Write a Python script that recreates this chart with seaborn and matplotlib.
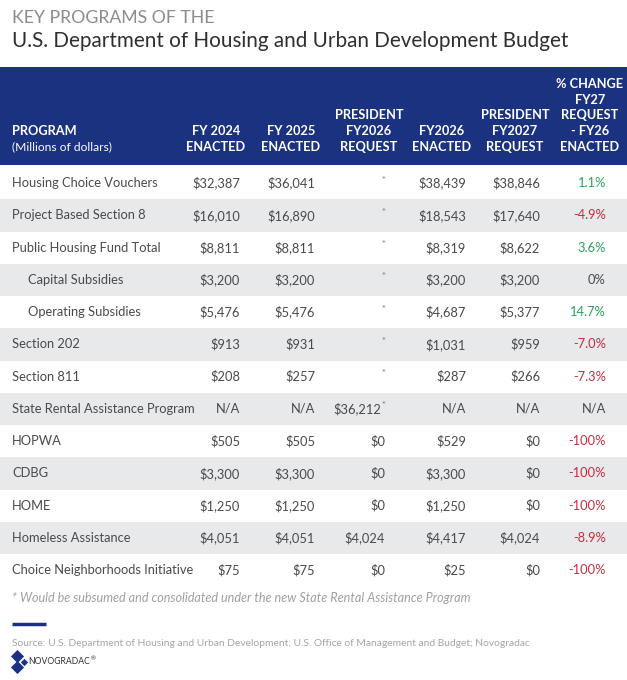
import matplotlib
matplotlib.use("Agg")
import matplotlib.pyplot as plt
import seaborn as sns
import pandas as pd

programs = ["Housing Choice Vouchers", "Project Based Section 8", "Public Housing Fund Total",
            "Capital Subsidies", "Operating Subsidies", "Section 202", "Section 811",
            "State Rental Assistance Program", "HOPWA", "CDBG", "HOME",
            "Homeless Assistance", "Choice Neighborhoods Initiative"]
indented = [False, False, False, True, True, False, False, False, False, False, False, False, False]
fy2024 = [32387, 16010, 8811, 3200, 5476, 913, 208, None, 505, 3300, 1250, 4051, 75]
fy2025 = [36041, 16890, 8811, 3200, 5476, 931, 257, None, 505, 3300, 1250, 4051, 75]
pres_fy2026 = ["*", "*", "*", "*", "*", "*", "*", 36212, 0, 0, 0, 4024, 0]
pres_fy2026_note = [False] * 7 + [True] + [False] * 5
fy2026 = [38439, 18543, 8319, 3200, 4687, 1031, 287, None, 529, 3300, 1250, 4417, 25]
pres_fy2027 = [38846, 17640, 8622, 3200, 5377, 959, 266, None, 0, 0, 0, 4024, 0]
pct_change = [1.1, -4.9, 3.6, 0, 14.7, -7.0, -7.3, None, -100, -100, -100, -8.9, -100]

headers = ["FY 2024\nENACTED", "FY 2025\nENACTED", "PRESIDENT\nFY2026\nREQUEST",
           "FY2026\nENACTED", "PRESIDENT\nFY2027\nREQUEST",
           "% CHANGE\nFY27\nREQUEST\n- FY26\nENACTED"]

title_top = "KEY PROGRAMS OF THE"
title_main = "U.S. Department of Housing and Urban Development Budget"
footnote = "* Would be subsumed and consolidated under the new State Rental Assistance Program"
source = "Source: U.S. Department of Housing and Urban Development; U.S. Office of Management and Budget; Novogradac"

sns.set_theme(style="white")
plt.rcParams['font.family'] = ['Lato', 'DejaVu Sans']

BLUE = "#1b3281"
GRAY_ROW = "#e8e9ea"
TXT = "#4a4a4a"
GREEN = "#27a35a"
RED = "#c22f3f"

W, H = 627, 680
fig = plt.figure(figsize=(W / 100, H / 100), dpi=100)
ax = fig.add_axes([0, 0, 1, 1])
ax.set_xlim(0, W)
ax.set_ylim(H, 0)
ax.axis("off")

def px(p):
    return p * 0.72

# titles
ax.text(12, 18, title_top, fontsize=px(17.6), color="#8c8c8c", va="center", ha="left")
ax.text(12, 41, title_main, fontsize=px(20.7), color="#2f2f2f", va="center", ha="left")

# header band
hdr_top, hdr_bot = 67, 165
ax.axhspan(hdr_top, hdr_bot, color=BLUE, lw=0)

col_right = [240, 315, 385, 466, 540, 606]
col_center = [216, 291, 369, 442, 515, 590]
line_h = 15.8
bottom_line_y = 147

hfs = px(12.8)
ax.text(12, bottom_line_y - line_h, "PROGRAM", color="white", fontsize=hfs,
        fontweight="bold", va="center", ha="left")
ax.text(12, bottom_line_y, "(Millions of dollars)", color="white", fontsize=px(12),
        va="center", ha="left")
for h, cx in zip(headers, col_center):
    lines = h.split("\n")
    n = len(lines)
    for k, ln in enumerate(lines):
        y = bottom_line_y - (n - 1 - k) * line_h
        ax.text(cx, y, ln, color="white", fontsize=hfs, fontweight="bold",
                va="center", ha="center")

# rows
row_top = 167
row_h = 32.25
fs = px(12.9)

def money(v):
    if v is None:
        return "N/A"
    if isinstance(v, str):
        return v
    return "${:,}".format(v)

def pct(v):
    if v is None:
        return "N/A", TXT
    if v == int(v) and abs(v) in (0, 100):
        s = "{:d}%".format(int(v))
    else:
        s = "{:.1f}%".format(v)
    col = GREEN if v > 0 else (RED if v < 0 else TXT)
    return s, col

df = pd.DataFrame({"program": programs, "fy2024": fy2024, "fy2025": fy2025,
                   "pres_fy2026": pres_fy2026, "fy2026": fy2026,
                   "pres_fy2027": pres_fy2027, "pct": pct_change}, dtype=object)

def star(x, y):
    ax.text(x, y - 3, "*", fontsize=px(9.5), color="#777777", va="center", ha="center")

for i, r in df.iterrows():
    y0 = row_top + i * row_h
    yc = y0 + row_h / 2
    if i % 2 == 1:
        ax.axhspan(y0, y0 + row_h, color=GRAY_ROW, lw=0)
    x_lab = 28 if indented[i] else 12
    ax.text(x_lab, yc, r["program"], fontsize=fs, color=TXT, va="center", ha="left")
    vals = [money(r["fy2024"]), money(r["fy2025"]), money(r["pres_fy2026"]),
            money(r["fy2026"]), money(r["pres_fy2027"])]
    for j, v in enumerate(vals):
        if v == "*":
            star(col_right[j] - 2, yc)
        elif j == 2 and pres_fy2026_note[i]:
            ax.text(col_right[j] - 4, yc, v, fontsize=fs, color=TXT, va="center", ha="right")
            star(col_right[j] - 1.5, yc)
        else:
            ax.text(col_right[j], yc, v, fontsize=fs, color=TXT, va="center", ha="right")
    s, c = pct(r["pct"])
    ax.text(col_right[5], yc, s, fontsize=fs, color=c, va="center", ha="right")

# footnote
ax.text(12, 598, footnote, fontsize=px(12.6), color="#a0a0a0", style="italic",
        va="center", ha="left")
ax.plot([12, 46], [624, 624], color=BLUE, lw=2.5, solid_capstyle="butt")
ax.text(12, 643, source, fontsize=px(10.3), color="#a5a5a5", va="center", ha="left")

# logo
ax.scatter([17, 17], [656, 667], marker="D", s=45, color=BLUE, lw=0)
ax.scatter([24], [662], marker="D", s=14, color=BLUE, lw=0)
ax.text(28, 662, "NOVOGRADAC", fontsize=px(8.6), color="#333333", va="center", ha="left")
ax.text(90.5, 659, "\u00ae", fontsize=px(6), color="#333333", va="center", ha="left")

fig.savefig("out.png", dpi=100, facecolor="white")
